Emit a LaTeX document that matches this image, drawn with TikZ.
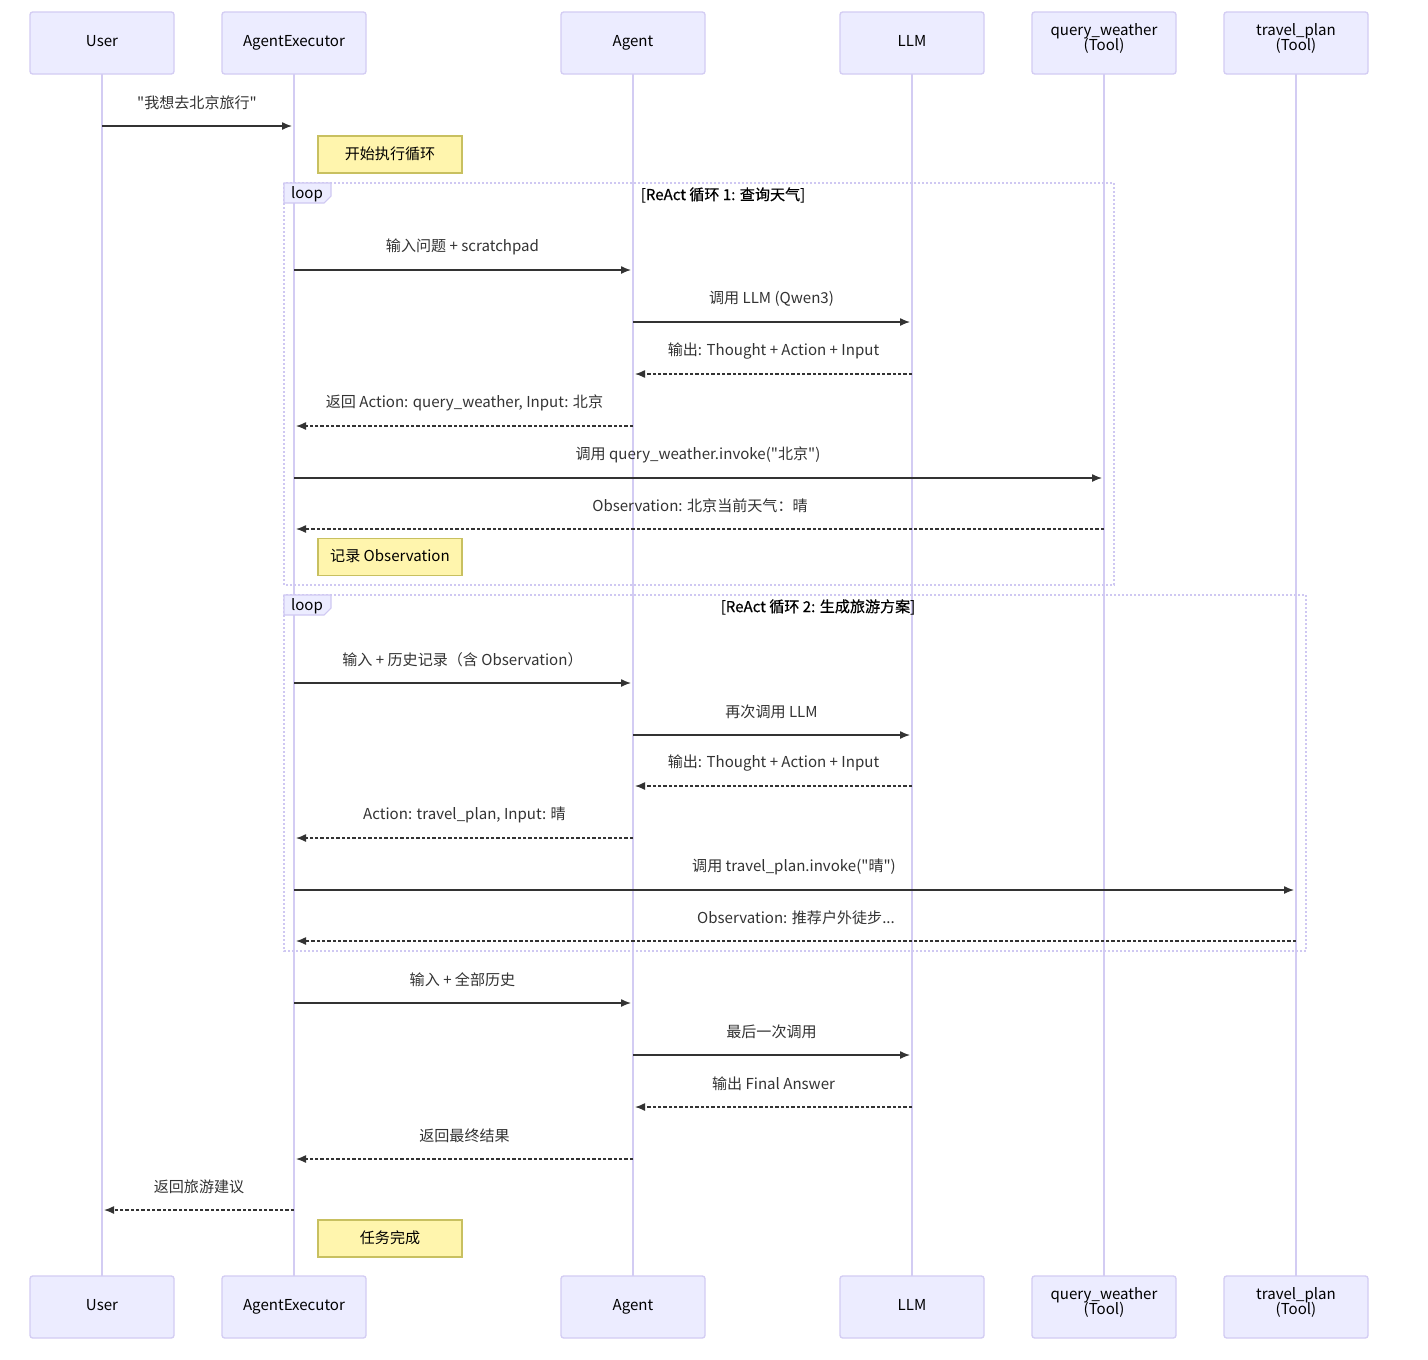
\documentclass[tikz,border=0pt]{standalone}
\usepackage{fontspec}
\setmainfont{Noto Sans CJK SC}[Ligatures=TeXOff]
\newfontfamily\medfont{Noto Sans CJK SC}[Ligatures=TeXOff,FakeBold=0.6]
\usetikzlibrary{arrows.meta}
\definecolor{actfill}{HTML}{ECECFF}
\definecolor{actline}{HTML}{D3CCF3}
\definecolor{notefill}{HTML}{FFF5AD}
\definecolor{noteline}{HTML}{C8C060}
\definecolor{msgcol}{HTML}{333333}
\definecolor{loopcol}{HTML}{CFC8F2}
\tikzset{
  actor/.style={draw=actline, fill=actfill, line width=1pt, rounded corners=2pt,
    minimum width=144*0.75pt, minimum height=62*0.75pt, align=center,
    font=\fontsize{11.3}{11.3}\selectfont, inner sep=0pt},
  actor2/.style={actor, text height=12pt, text depth=4pt},
  life/.style={draw=actline, line width=1.5pt},
  msgs/.style={draw=msgcol, line width=1pt, -{Latex[length=7.5pt,width=6pt]}},
  msgd/.style={msgs, dash pattern=on 2.5pt off 1.5pt},
  lbl/.style={font=\fontsize{11.3}{13}\selectfont, text=msgcol, inner sep=0pt},
  notebox/.style={draw=noteline, fill=notefill, line width=0.8pt,
    minimum width=144*0.75pt, minimum height=37*0.75pt, inner sep=0pt,
    font=\fontsize{11.3}{13}\selectfont},
  loopbox/.style={draw=loopcol, line width=1.3pt, dash pattern=on 1.2pt off 1.8pt},
  looptab/.style={draw=loopcol, fill=actfill, line width=0.8pt},
  looptxt/.style={font=\fontsize{11.3}{13}\selectfont, inner sep=0pt},
  looptitle/.style={font=\fontsize{11.3}{13}\medfont, inner sep=0pt}
}
\newcommand{\mymsg}[6]{% name, from x, to x, y, label, style
  \coordinate (#1a) at (#2,#4);
  \coordinate (#1b) at (#3,#4);
  \draw[#6] (#1a) -- (#1b);
  \node[lbl] (#1l) at ({(#2+#3)/2},#4-23) {#5};
}
\newcommand{\toolbox}[4]{% name, x, y, text
  \node[actor] (#1) at (#2,#3) {};
  \node[font=\fontsize{11.3}{11.3}\selectfont, inner sep=0pt, align=center] (#1t) at (#2,#3-4.5) {#4\\[-1pt](Tool)};
}
\begin{document}
\begin{tikzpicture}[x=0.75pt,y=-0.75pt]
\useasboundingbox (0,0) rectangle (1428,1360);
\fill[white] (0,0) rectangle (1428,1360);
% lifelines
\foreach \n/\x in {u/102,ae/294,ag/633,llm/912,qw/1104,tp/1296}{
  \coordinate (\n T) at (\x,74);
  \coordinate (\n B) at (\x,1276);
  \draw[life] (\n T) -- (\n B);
}
% actors top
\node[actor] (uTop) at (102,43) {\raisebox{3pt}{User}};
\node[actor] (aeTop) at (294,43) {\raisebox{3pt}{AgentExecutor}};
\node[actor] (agTop) at (633,43) {\raisebox{3pt}{Agent}};
\node[actor] (llmTop) at (912,43) {\raisebox{3pt}{LLM}};
\toolbox{qwTop}{1104}{43}{query\_weather}
\toolbox{tpTop}{1296}{43}{travel\_plan}
% actors bottom
\node[actor] (uBot) at (102,1307) {\raisebox{3pt}{User}};
\node[actor] (aeBot) at (294,1307) {\raisebox{3pt}{AgentExecutor}};
\node[actor] (agBot) at (633,1307) {\raisebox{3pt}{Agent}};
\node[actor] (llmBot) at (912,1307) {\raisebox{3pt}{LLM}};
\toolbox{qwBot}{1104}{1307}{query\_weather}
\toolbox{tpBot}{1296}{1307}{travel\_plan}

% loops
\draw[loopbox] (284,183) rectangle (1114,585);
\draw[looptab] (284,183) -- (331,183) -- (331,196) -- (324,203) -- (284,203) -- cycle;
\node[looptxt] (loop1) at (307,194) {loop};
\node[looptitle] (loop1t) at (723,195) {[ReAct 循环 1: 查询天气]};

\draw[loopbox] (284,595) rectangle (1306,951);
\draw[looptab] (284,595) -- (331,595) -- (331,608) -- (324,615) -- (284,615) -- cycle;
\node[looptxt] (loop2) at (307,606) {loop};
\node[looptitle] (loop2t) at (818,607) {[ReAct 循环 2: 生成旅游方案]};

% messages
\mymsg{m1}{102}{292}{126}{"我想去北京旅行"}{msgs}
\node[notebox] (n1) at (390,154.5) {\raisebox{2pt}{开始执行循环}};
\mymsg{m2}{294}{631}{270}{输入问题 + scratchpad}{msgs}
\mymsg{m3}{633}{910}{322}{调用 LLM (Qwen3)}{msgs}
\mymsg{m4}{912}{635}{374}{输出: Thought + Action + Input}{msgd}
\mymsg{m5}{633}{296}{426}{返回 Action: query\_weather, Input: 北京}{msgd}
\mymsg{m6}{294}{1102}{478}{调用 query\_weather.invoke("北京")}{msgs}
\mymsg{m7}{1104}{296}{529}{Observation: 北京当前天气：晴}{msgd}
\node[notebox] (n2) at (390,557) {\raisebox{2pt}{记录 Observation}};
\mymsg{m8}{294}{631}{683}{输入 + 历史记录（含 Observation）}{msgs}
\mymsg{m9}{633}{910}{735}{再次调用 LLM}{msgs}
\mymsg{m10}{912}{635}{786}{输出: Thought + Action + Input}{msgd}
\mymsg{m11}{633}{296}{838}{Action: travel\_plan, Input: 晴}{msgd}
\mymsg{m12}{294}{1294}{890}{调用 travel\_plan.invoke("晴")}{msgs}
\mymsg{m13}{1296}{296}{941}{Observation: 推荐户外徒步...}{msgd}
\mymsg{m14}{294}{631}{1003}{输入 + 全部历史}{msgs}
\mymsg{m15}{633}{910}{1055}{最后一次调用}{msgs}
\mymsg{m16}{912}{635}{1107}{输出 Final Answer}{msgd}
\mymsg{m17}{633}{296}{1159}{返回最终结果}{msgd}
\mymsg{m18}{294}{104}{1210}{返回旅游建议}{msgd}
\node[notebox] (n3) at (390,1238.5) {\raisebox{2pt}{任务完成}};
\end{tikzpicture}
\end{document}
